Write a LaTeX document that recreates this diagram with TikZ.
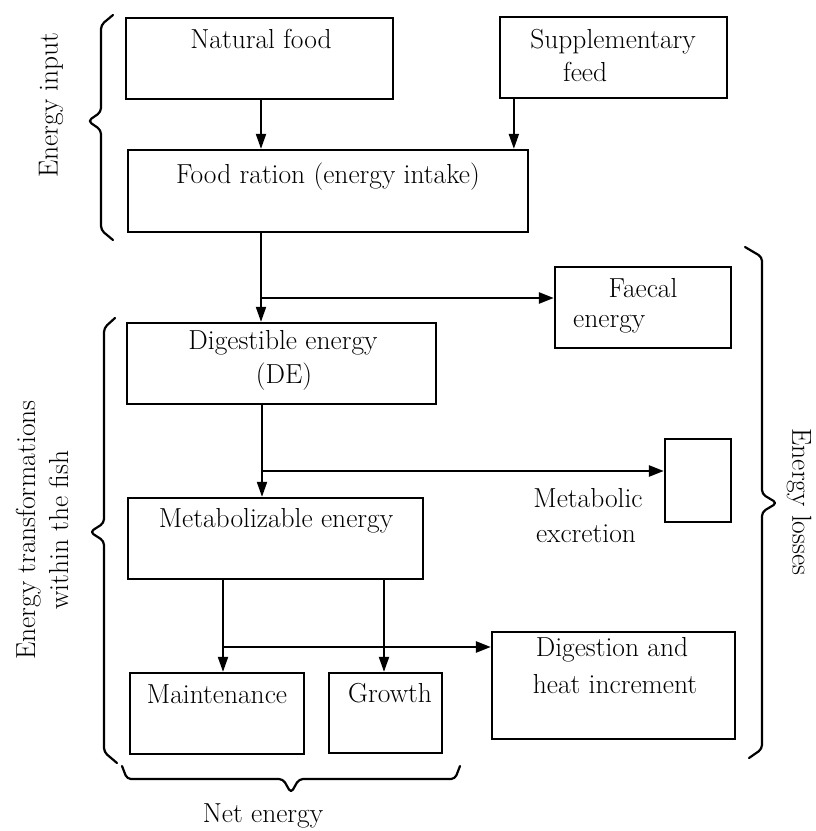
\documentclass[tikz,border=0pt]{standalone}
\usepackage{fontspec}
\usetikzlibrary{arrows.meta,calc}
\begin{document}
\begin{tikzpicture}[x=1pt,y=-1pt,
  box/.style={draw, line width=2.3pt, inner sep=0pt},
  txt/.style={font=\fontsize{27.5}{33}\selectfont, inner sep=0pt, anchor=base},
  side/.style={font=\fontsize{27.5}{33}\selectfont, inner sep=0pt},
  arr/.style={line width=2pt, -{Triangle[length=15pt,width=10pt]}},
  harr/.style={line width=2.6pt, -{Triangle[length=15pt,width=11pt]}},
  ln/.style={line width=2pt},
  bracel/.style={line width=2.2pt, line join=round, line cap=round, rounded corners=4pt}]
\useasboundingbox (0,0) rectangle (816,831);

% boxes
\node[box, minimum width=267pt, minimum height=81pt] (nat) at (259.5,58.5) {};
\node[box, minimum width=227pt, minimum height=81pt] (supp) at (613.5,57.5) {};
\node[box, minimum width=400pt, minimum height=82pt] (food) at (328,191) {};
\node[box, minimum width=176pt, minimum height=81pt] (faecal) at (643,307.5) {};
\node[box, minimum width=309pt, minimum height=81pt] (de) at (281.5,363.5) {};
\node[box, minimum width=66pt, minimum height=83pt] (metab) at (698,480.5) {};
\node[box, minimum width=295pt, minimum height=81pt] (me) at (275.5,538.5) {};
\node[box, minimum width=174pt, minimum height=81pt] (maint) at (217,713.5) {};
\node[box, minimum width=113pt, minimum height=80pt] (growth) at (385.5,713) {};
\node[box, minimum width=243pt, minimum height=107pt] (dig) at (613.5,685.5) {};

% texts
\node[txt] (tnat) at (261,48) {Natural food};
\node[txt] (tsupp1) at (613,48) {Supplementary};
\node[txt, anchor=base west] (tsupp2) at (563,81) {feed};
\node[txt] (tfood) at (328,183) {Food ration (energy intake)};
\node[txt] (tfae1) at (643,297) {Faecal};
\node[txt, anchor=base west] (tfae2) at (573,327) {energy};
\node[txt] (tde1) at (283,349) {Digestible energy};
\node[txt] (tde2) at (284,383) {(DE)};
\node[txt] (tme) at (276,527) {Metabolizable energy};
\node[txt] (tmet1) at (588,507) {Metabolic};
\node[txt] (tmet2) at (586,542) {excretion};
\node[txt] (tmaint) at (217,703) {Maintenance};
\node[txt] (tgrowth) at (390,702) {Growth};
\node[txt] (tdig1) at (612,656) {Digestion and};
\node[txt] (tdig2) at (615,693) {heat increment};
\node[txt] (tnet) at (263,822) {Net energy};

% side labels
\node[side, rotate=90] (lin) at (51,105) {Energy input};
\node[side, rotate=90, align=center] (ltr) at (42,530) {Energy transformations\\within the fish};
\node[side, rotate=-90] (llo) at (799,502) {Energy losses};

% connectors
\draw[arr] (nat.south -| tnat) -- (tnat |- food.north);
\coordinate (s1) at ([xshift=15pt]supp.south west);
\draw[arr] (s1) -- (s1 |- food.north);

\coordinate (j1) at (261,298);
\draw[ln] (j1 |- food.south) -- (j1);
\draw[arr] (j1) -- (j1 |- de.north);
\draw[harr] (j1) -- (j1 -| faecal.west);

\coordinate (j2) at (262,471);
\draw[ln] (j2 |- de.south) -- (j2);
\draw[arr] (j2) -- (j2 |- me.north);
\draw[harr] (j2) -- (j2 -| metab.west);

\coordinate (j3) at (223,647);
\coordinate (g1) at (384,647);
\draw[ln] (j3 |- me.south) -- (j3);
\draw[arr] (j3) -- (j3 |- maint.north);
\draw[arr] (g1 |- me.south) -- (g1 |- growth.north);
\draw[harr] (j3) -- (j3 -| dig.west);

% braces
\draw[bracel] (113,15) -- (101,25) -- (101,112) -- (88,121) -- (101,130) -- (101,230) -- (113,240);
\draw[bracel] (115,318) -- (104,328) -- (104,523) -- (90,532) -- (104,541) -- (104,752) -- (117,763);
\draw[bracel] (745,247) -- (762,257) -- (762,494) -- (777,503) -- (762,512) -- (762,749) -- (749,758);
\draw[bracel] (122,766) -- (127,779) -- (283,779) -- (291,793) -- (299,779) -- (455,779) -- (460,766);
\end{tikzpicture}
\end{document}
